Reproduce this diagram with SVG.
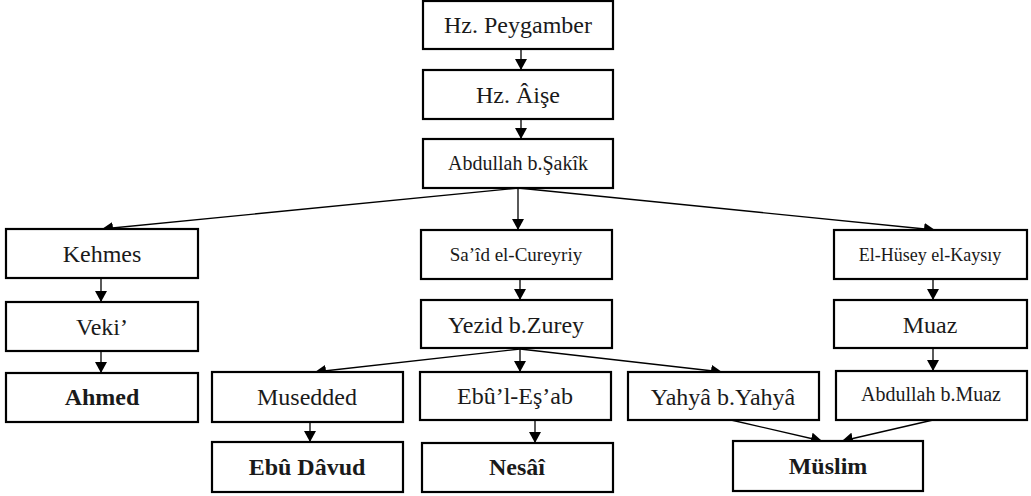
<svg xmlns="http://www.w3.org/2000/svg" width="1031" height="496" viewBox="0 0 1031 496">
<style>
.box{fill:#fff;stroke:#000;stroke-width:2.2}
.t{font-family:"Liberation Serif","Times New Roman",serif;font-size:24px;fill:#1a1a1a;text-anchor:middle}
.s20{font-size:20px}
.s19{font-size:19px}
.s18{font-size:18px}
.b{font-weight:bold}
.c{stroke:#000;stroke-width:1.3;fill:none;marker-end:url(#ah)}
</style>
<defs>
<marker id="ah" viewBox="0 0 11 12" refX="11" refY="6" markerWidth="11" markerHeight="12" markerUnits="userSpaceOnUse" orient="auto">
<path d="M0,0 L11,6 L0,12 z" fill="#000"/>
</marker>
</defs>
<rect width="1031" height="496" fill="#fff"/>
<g id="connectors">
<line class="c" x1="521" y1="49" x2="521" y2="70"/>
<line class="c" x1="521" y1="119" x2="521" y2="139"/>
<line class="c" x1="518" y1="188" x2="102" y2="229"/>
<line class="c" x1="518" y1="188" x2="518" y2="230"/>
<line class="c" x1="518" y1="188" x2="935" y2="230"/>
<line class="c" x1="101" y1="278" x2="101" y2="302"/>
<line class="c" x1="101" y1="351" x2="101" y2="373"/>
<line class="c" x1="520" y1="279" x2="520" y2="300"/>
<line class="c" x1="520" y1="349" x2="315" y2="372"/>
<line class="c" x1="520" y1="349" x2="520" y2="372"/>
<line class="c" x1="520" y1="349" x2="722" y2="372"/>
<line class="c" x1="310" y1="422" x2="310" y2="442"/>
<line class="c" x1="535" y1="420" x2="535" y2="443"/>
<line class="c" x1="933" y1="279" x2="933" y2="300"/>
<line class="c" x1="933" y1="348" x2="933" y2="371"/>
<line class="c" x1="731" y1="420" x2="822" y2="441"/>
<line class="c" x1="933" y1="420" x2="842" y2="441"/>
</g>
<g id="n-peygamber"><rect class="box" x="423" y="1" width="190" height="48"/><text class="t" x="518" y="33">Hz. Peygamber</text></g>
<g id="n-aise"><rect class="box" x="423" y="70" width="190" height="49"/><text class="t" x="518" y="103">Hz. Âişe</text></g>
<g id="n-sakik"><rect class="box" x="423" y="139" width="190" height="49"/><text class="t s20" x="518" y="170">Abdullah b.Şakîk</text></g>
<g id="n-kehmes"><rect class="box" x="6" y="229" width="192" height="49"/><text class="t" x="102" y="262">Kehmes</text></g>
<g id="n-veki"><rect class="box" x="6" y="302" width="192" height="49"/><text class="t" x="102" y="335">Veki’</text></g>
<g id="n-ahmed"><rect class="box" x="6" y="373" width="192" height="49"/><text class="t b" x="102" y="405">Ahmed</text></g>
<g id="n-said"><rect class="box" x="421" y="230" width="191" height="49"/><text class="t s19" x="516" y="261">Sa’îd el-Cureyriy</text></g>
<g id="n-yezid"><rect class="box" x="421" y="300" width="191" height="48"/><text class="t" x="516" y="333">Yezid b.Zurey</text></g>
<g id="n-husey"><rect class="box" x="834" y="230" width="193" height="49"/><text class="t s18" x="930" y="261">El-Hüsey el-Kaysıy</text></g>
<g id="n-muaz"><rect class="box" x="834" y="300" width="193" height="48"/><text class="t" x="930" y="333">Muaz</text></g>
<g id="n-abdmuaz"><rect class="box" x="836" y="371" width="191" height="49"/><text class="t s20" x="931" y="401">Abdullah b.Muaz</text></g>
<g id="n-musedded"><rect class="box" x="212" y="372" width="191" height="50"/><text class="t" x="307" y="405">Musedded</text></g>
<g id="n-ebuesab"><rect class="box" x="420" y="372" width="191" height="48"/><text class="t" x="515" y="404">Ebû’l-Eş’ab</text></g>
<g id="n-yahya"><rect class="box" x="628" y="372" width="191" height="48"/><text class="t" x="723" y="405">Yahyâ b.Yahyâ</text></g>
<g id="n-ebudavud"><rect class="box" x="212" y="442" width="191" height="50"/><text class="t b" x="307" y="475">Ebû Dâvud</text></g>
<g id="n-nesai"><rect class="box" x="422" y="443" width="191" height="49"/><text class="t b" x="517" y="475">Nesâî</text></g>
<g id="n-muslim"><rect class="box" x="733" y="441" width="190" height="50"/><text class="t b" x="828" y="474">Müslim</text></g>
</svg>
